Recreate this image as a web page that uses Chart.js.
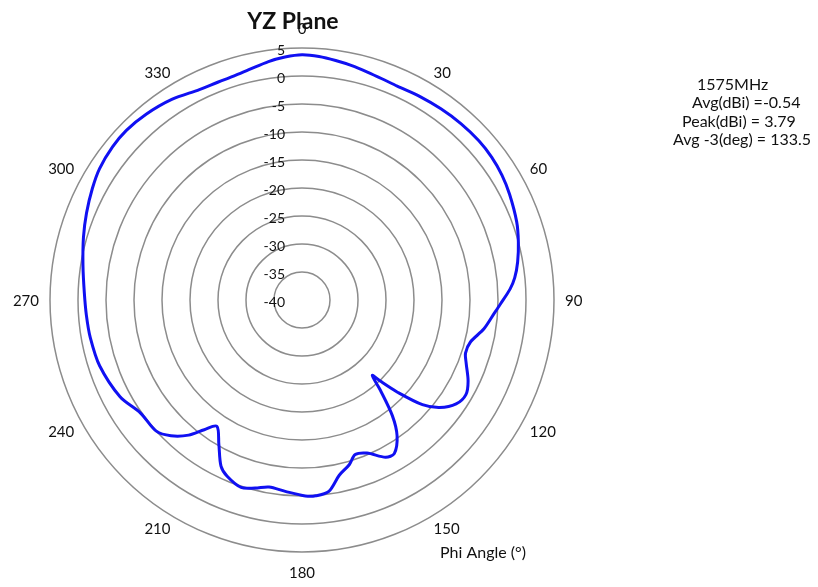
<!DOCTYPE html>
<html>
<head>
<meta charset="utf-8">
<title>YZ Plane</title>
<script src="https://cdn.jsdelivr.net/npm/chart.js@4.4.1/dist/chart.umd.min.js"></script>
<style>
  body { margin: 0; background: #fff; }
  #wrap { position: relative; width: 818px; height: 587px; }
</style>
</head>
<body>
<div id="wrap"><canvas id="myChart" width="818" height="587"></canvas></div>
<script>
// measured pattern, phi angle (deg) -> gain (dBi)
const angles = [0, 4, 8, 12, 16, 20, 24, 30, 36, 42, 48, 53, 58, 63, 70, 75, 80, 84, 87, 91,
  94, 99, 104, 108, 111, 116, 120, 124, 128, 131, 134, 136, 137, 139, 142, 145, 149, 152, 157, 161,
  164, 168, 172, 176, 179, 185, 190, 194, 198, 203, 206, 210, 214, 217, 220, 224, 228, 235, 242, 252,
  260, 266, 272, 279, 286, 292, 298, 303, 309, 314, 320, 327, 334, 339, 343, 347, 352, 356];
const gains = [3.8, 3.6, 3.2, 2.8, 2.35, 2.0, 1.8, 2.0, 2.2, 2.4, 2.5, 2.4, 2.1, 1.6, 0.8, 0.0, -0.9, -1.8, -2.8, -4.5,
  -5.6, -7.1, -9.0, -9.3, -8.6, -7.0, -6.2, -6.8, -8.8, -11.5, -16.3, -19.8, -21.6, -18.7, -13.8, -10.4, -8.0, -8.2, -10.3, -10.8,
  -9.4, -8.0, -5.5, -4.95, -5.0, -5.7, -6.1, -5.4, -4.8, -5.8, -7.0, -10.3, -12.8, -11.0, -8.5, -6.3, -5.0, -4.8, -3.2, -2.0,
  -1.6, -1.4, -1.1, -0.4, 0.6, 1.5, 2.4, 3.1, 3.5, 3.6, 3.3, 2.7, 1.8, 1.7, 1.8, 2.2, 3.0, 3.5];

const ringTicks = [5, 0, -5, -10, -15, -20, -25, -30, -35, -40];
const angleTicks = [0, 30, 60, 90, 120, 150, 180, 210, 240, 270, 300, 330];
const infoLines = ["1575MHz", "Avg(dBi) =-0.54", "Peak(dBi) = 3.79", "Avg -3(deg) = 133.5"];

// one category per degree, gaps where nothing was read
const labels = [];
const data = [];
for (let i = 0; i < 360; i++) {
  labels.push(i);
  const k = angles.indexOf(i);
  data.push(k >= 0 ? gains[k] : null);
}

const polarText = {
  id: "polarText",
  afterDraw(chart) {
    const ctx = chart.ctx;
    const scale = chart.scales.r;
    ctx.save();
    ctx.fillStyle = "#111";

    // radial tick labels, left of the vertical axis
    ctx.font = "14px Lato";
    ctx.textAlign = "right";
    ctx.textBaseline = "middle";
    ringTicks.forEach((v) => {
      const d = scale.getDistanceFromCenterForValue(v);
      ctx.fillText(String(v), scale.xCenter - 17, scale.yCenter - d + 2);
    });

    // angle labels: sides anchored at the point, top/bottom pushed out
    ctx.font = "15px Lato";
    angleTicks.forEach((a) => {
      const p = scale.getPointPosition(a, scale.drawingArea + 11);
      const s = Math.sin((a * Math.PI) / 180);
      let y = p.y + 1;
      if (s > 0.01) {
        ctx.textAlign = "left";
      } else if (s < -0.01) {
        ctx.textAlign = "right";
      } else {
        ctx.textAlign = "center";
        y += a === 0 ? -9 : 9;
      }
      ctx.fillText(String(a), p.x, y);
    });

    ctx.textAlign = "center";
    ctx.font = "16px Lato";
    ctx.fillText("Phi Angle (°)", 483, 553);

    // info block
    ctx.font = "16px Lato";
    ctx.textAlign = "left";
    const xs = [697, 692, 682, 673];
    infoLines.forEach((t, i) => {
      ctx.fillText(t, xs[i], 85 + i * 18.3);
    });

    // title
    ctx.font = "bold 23px Lato";
    ctx.textAlign = "center";
    ctx.textBaseline = "alphabetic";
    ctx.fillText("YZ Plane", 293, 28.5);
    ctx.restore();
  }
};

const myChart = document.querySelector("#myChart").getContext("2d");
const radarChart = new Chart(myChart, {
  type: "radar",
  data: {
    labels: labels,
    datasets: [
      {
        label: "1575MHz",
        data: data,
        borderColor: "#1010f2",
        borderWidth: 3,
        fill: false,
        pointRadius: 0,
        tension: 0.3,
        spanGaps: true,
      },
    ],
  },
  options: {
    responsive: false,
    animation: false,
    layout: { padding: { left: 50, right: 264, top: 48, bottom: 35 } },
    scales: {
      r: {
        min: -40,
        max: 5,
        ticks: { stepSize: 5, display: false },
        grid: { circular: true, color: "#8c8c8c", lineWidth: 1.5 },
        angleLines: { display: false },
        pointLabels: { display: false },
      },
    },
    plugins: {
      legend: { display: false },
      tooltip: { enabled: false },
    },
  },
  plugins: [polarText],
});
</script>
</body>
</html>
